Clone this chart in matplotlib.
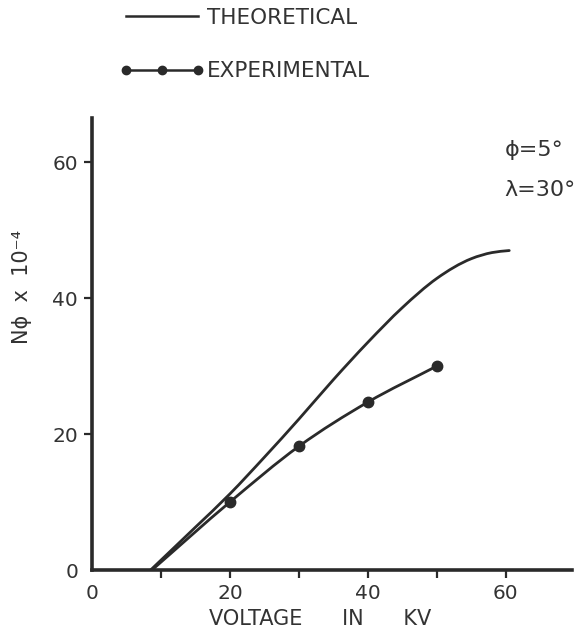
import numpy as np
import matplotlib
matplotlib.use("Agg")
import matplotlib.pyplot as plt
from matplotlib.path import Path
from matplotlib.patches import PathPatch
from matplotlib.lines import Line2D

# Theoretical curve (kV, N·phi x 1e-4)
theo_kv = [8.5, 15, 20, 25, 30, 35, 40, 45, 50, 55, 58, 60.5]
theo_n = [0.0, 6.3, 11.2, 16.6, 22.2, 28.0, 33.5, 38.6, 42.9, 45.8, 46.7, 47.0]

# Experimental measurements
exp_kv = [20, 30, 40, 50]
exp_n = [10.0, 18.2, 24.7, 30.0]
exp_onset_kv = 8.7  # voltage where the measured count leaves zero

x_major = [0, 20, 40, 60]
x_minor = [10, 30, 50]
y_major = [0, 20, 40, 60]

INK = "#2a2a2a"
TXT = "#333333"


def smooth_path(xs, ys):
    """Cubic Hermite curve y(x) through the points, as Bezier segments."""
    x = np.asarray(xs, float)
    y = np.asarray(ys, float)
    h = np.diff(x)
    d = np.diff(y) / h
    m = np.empty_like(y)
    m[0], m[-1] = d[0], d[-1]
    m[1:-1] = (h[1:] * d[:-1] + h[:-1] * d[1:]) / (h[:-1] + h[1:])
    verts = [(x[0], y[0])]
    codes = [Path.MOVETO]
    for i in range(len(x) - 1):
        t = h[i] / 3.0
        verts += [(x[i] + t, y[i] + t * m[i]),
                  (x[i + 1] - t, y[i + 1] - t * m[i + 1]),
                  (x[i + 1], y[i + 1])]
        codes += [Path.CURVE4] * 3
    return Path(verts, codes)


fig = plt.figure(figsize=(5.85, 6.38), dpi=100)
ax = fig.add_axes([92 / 585, 68 / 638, 480 / 585, 452 / 638])
ax.set_xlim(0, 69.6)
ax.set_ylim(0, 66.5)

# curves
ax.add_patch(PathPatch(smooth_path(theo_kv, theo_n), fill=False,
                       edgecolor=INK, lw=2.0, capstyle="round"))
ax.add_patch(PathPatch(smooth_path([exp_onset_kv] + exp_kv, [0.0] + exp_n),
                       fill=False, edgecolor=INK, lw=2.0, capstyle="round"))
ax.plot(exp_kv, exp_n, linestyle="none", marker="o", ms=7.5, color=INK)

# axes styling
for side in ("top", "right"):
    ax.spines[side].set_visible(False)
for side in ("left", "bottom"):
    ax.spines[side].set_linewidth(2.6)
    ax.spines[side].set_color(INK)

ax.set_xticks(x_major)
ax.set_xticks(x_minor, minor=True)
ax.set_yticks(y_major)
ax.set_xticklabels([str(v) for v in x_major])
ax.set_yticklabels([str(v) for v in y_major])
ax.tick_params(axis="both", which="both", direction="out", color=INK,
               width=1.6, labelcolor=TXT, labelsize=14.5)
ax.tick_params(axis="x", which="both", length=6, pad=4)
ax.tick_params(axis="y", which="major", length=6, pad=4)
ax.xaxis.get_major_ticks()[0].tick1line.set_visible(False)
ax.yaxis.get_major_ticks()[0].tick1line.set_visible(False)

ax.set_xlabel("VOLTAGE      IN      KV", fontsize=15, color=TXT)
ax.xaxis.set_label_coords(0.475, -0.087)
ax.set_ylabel("N\u03d5  x  10\u207b\u2074", fontsize=15, color=TXT)
ax.yaxis.set_label_coords(-0.125, 0.626)

# legend at the top of the figure
handles = [
    Line2D([], [], color=INK, lw=1.8),
    Line2D([], [], color=INK, lw=1.8, marker="o", ms=6),
]
leg = fig.legend(handles, ["THEORETICAL", "EXPERIMENTAL"],
                 loc="upper left", bbox_to_anchor=(120 / 585, 1 - 8 / 638),
                 frameon=False, fontsize=15.5, numpoints=3, handlelength=3.9,
                 handletextpad=0.15, labelspacing=1.55, borderpad=0,
                 borderaxespad=0)
for t in leg.get_texts():
    t.set_color(TXT)

# parameter notes
ax.text(0.86, 0.929, "\u03d5=5\u00b0", transform=ax.transAxes, fontsize=16,
        color=TXT, ha="left", va="center")
ax.text(0.86, 0.84, "\u03bb=30\u00b0", transform=ax.transAxes, fontsize=16,
        color=TXT, ha="left", va="center")

fig.savefig("out.png", dpi=100, facecolor="white")
